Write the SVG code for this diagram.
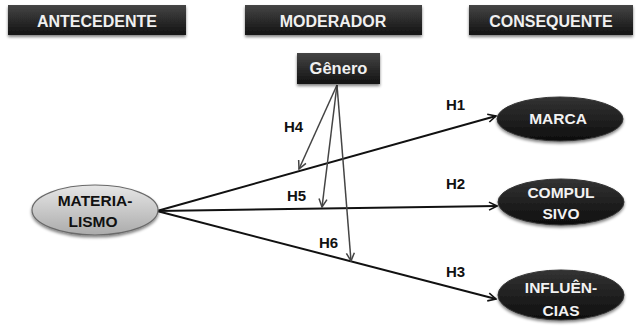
<svg xmlns="http://www.w3.org/2000/svg" width="637" height="327" viewBox="0 0 637 327">
<defs>
<linearGradient id="dark" x1="0" y1="0" x2="0" y2="1">
<stop offset="0" stop-color="#454545"/>
<stop offset="1" stop-color="#121212"/>
</linearGradient>
<linearGradient id="darkEl" x1="0" y1="0" x2="0" y2="1">
<stop offset="0" stop-color="#333333"/>
<stop offset="1" stop-color="#0e0e0e"/>
</linearGradient>
<linearGradient id="light" x1="0" y1="0" x2="0" y2="1">
<stop offset="0" stop-color="#e6e6e6"/>
<stop offset="1" stop-color="#ababab"/>
</linearGradient>
<filter id="sh" x="-20%" y="-30%" width="140%" height="170%">
<feGaussianBlur in="SourceAlpha" stdDeviation="1.6"/>
<feOffset dx="0" dy="2" result="b"/>
<feComponentTransfer><feFuncA type="linear" slope="0.5"/></feComponentTransfer>
<feMerge><feMergeNode/><feMergeNode in="SourceGraphic"/></feMerge>
</filter>
<marker id="ah" viewBox="0 0 10 10" refX="9" refY="5" markerWidth="10" markerHeight="10" markerUnits="userSpaceOnUse" orient="auto">
<path d="M1,1 L9,5 L1,9" fill="none" stroke="#111" stroke-width="1.6"/>
</marker>
<marker id="ahg" viewBox="0 0 10 10" refX="9" refY="5" markerWidth="10" markerHeight="10" markerUnits="userSpaceOnUse" orient="auto">
<path d="M1,1 L9,5 L1,9" fill="none" stroke="#444" stroke-width="1.5"/>
</marker>
</defs>
<style>
.hdr{fill:url(#dark);filter:url(#sh)}
.ht{font-family:"Liberation Sans",Arial,sans-serif;font-weight:bold;font-size:16px;fill:#f0f0f0;text-anchor:middle}
.de{fill:url(#darkEl);stroke:#333;stroke-width:1;filter:url(#sh)}
.et{font-family:"Liberation Sans",Arial,sans-serif;font-weight:bold;font-size:15.5px;fill:#f2f2f2;text-anchor:middle}
.lt{font-family:"Liberation Sans",Arial,sans-serif;font-weight:bold;font-size:15.5px;fill:#111;text-anchor:middle}
.hl{font-family:"Liberation Sans",Arial,sans-serif;font-weight:bold;font-size:15px;fill:#111}
.main{stroke:#111;stroke-width:2;fill:none;marker-end:url(#ah)}
.mod{stroke:#444;stroke-width:1.5;fill:none;marker-end:url(#ahg)}
</style>
<rect width="637" height="327" fill="#ffffff"/>
<g id="antecedente">
<rect class="hdr" x="8" y="5" width="178" height="30"/>
<text class="ht" x="97" y="27">ANTECEDENTE</text>
</g>
<g id="moderador">
<rect class="hdr" x="245" y="5" width="177" height="30"/>
<text class="ht" x="333" y="27">MODERADOR</text>
</g>
<g id="consequente">
<rect class="hdr" x="469" y="5" width="164" height="30"/>
<text class="ht" x="551" y="27">CONSEQUENTE</text>
</g>
<g id="connectors">
<line class="main" x1="157" y1="211" x2="496" y2="116"/>
<line class="main" x1="157" y1="211" x2="497" y2="206"/>
<line class="main" x1="157" y1="211" x2="496" y2="299"/>
<line class="mod" x1="337" y1="85" x2="299" y2="169"/>
<line class="mod" x1="337" y1="85" x2="322" y2="207"/>
<line class="mod" x1="337" y1="85" x2="351" y2="261"/>
<text class="hl" x="446" y="110">H1</text>
<text class="hl" x="446" y="189">H2</text>
<text class="hl" x="446" y="277">H3</text>
<text class="hl" x="284" y="132">H4</text>
<text class="hl" x="287" y="201">H5</text>
<text class="hl" x="319" y="248">H6</text>
</g>
<g id="genero">
<rect x="297" y="53" width="83" height="31" fill="url(#dark)" filter="url(#sh)"/>
<text x="338.5" y="74" font-family="Liberation Sans, Arial, sans-serif" font-size="16.5" font-weight="bold" fill="#f0f0f0" text-anchor="middle">Gênero</text>
</g>
<g id="materialismo">
<ellipse cx="95" cy="210" rx="63" ry="25" fill="url(#light)" stroke="#6a6a6a" stroke-width="1.2" filter="url(#sh)"/>
<text class="lt" x="95" y="206">MATERIA-</text>
<text class="lt" x="93" y="227">LISMO</text>
</g>
<g id="marca">
<ellipse class="de" cx="560" cy="119" rx="63" ry="22"/>
<text class="et" x="558" y="124">MARCA</text>
</g>
<g id="compulsivo">
<ellipse class="de" cx="561" cy="202" rx="63" ry="23"/>
<text class="et" x="561" y="198">COMPUL</text>
<text class="et" x="561" y="219">SIVO</text>
</g>
<g id="influencias">
<ellipse class="de" cx="561" cy="295" rx="63" ry="25"/>
<text class="et" x="561" y="293">INFLUÊN-</text>
<text class="et" x="561" y="316">CIAS</text>
</g>
</svg>
